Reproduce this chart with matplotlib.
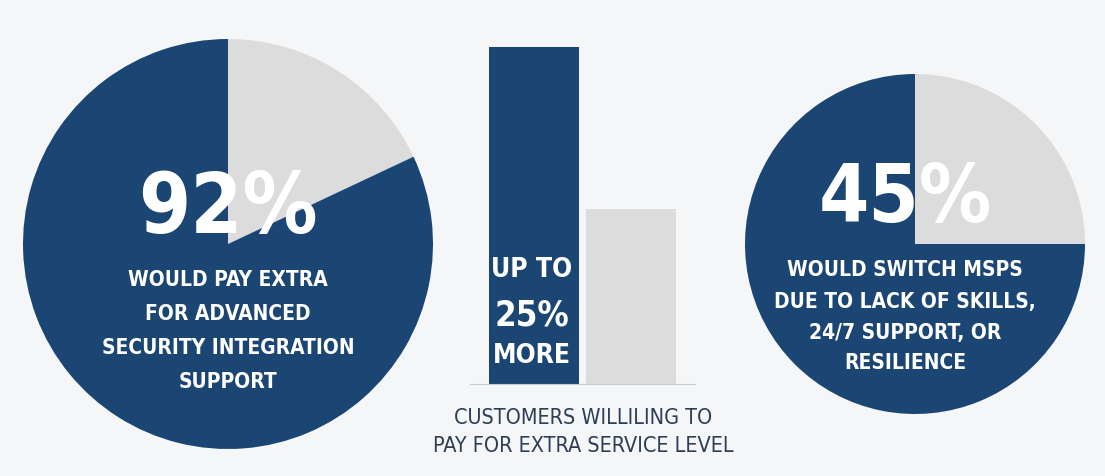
import matplotlib
matplotlib.use("Agg")
import matplotlib.pyplot as plt

BLUE = "#1b4674"; GRAY = "#dcdcdd"; BG = "#f5f6f8"
left_pie = [18, 82]      # gray, blue share as drawn
right_pie = [25, 75]
bar_labels = ["Extra", "Base"]
bar_values = [100, 52]

FONT = ["DejaVu Sans"]
W, H = 1105, 477
fig = plt.figure(figsize=(W/100, H/100), dpi=100, facecolor=BG)

bx = fig.add_axes([470/W, (H-385)/H, 225/W, 337/H])
bx.set_facecolor("none")
bx.bar([0, 1], bar_values, width=0.92, color=[BLUE, GRAY])
bx.set_xlim(-0.65, 1.65); bx.set_ylim(0, 100)
bx.set_xticks([]); bx.set_yticks([])
for s in ["top", "left", "right"]: bx.spines[s].set_visible(False)
bx.spines["bottom"].set_color("#cccccc")

ax = fig.add_axes([0, 0, 1, 1]); ax.set_facecolor("none"); ax.set_zorder(5)
ax.pie(left_pie, colors=[GRAY, BLUE], startangle=90, counterclock=False, center=(228, H-245), radius=205, frame=True)
ax.pie(right_pie, colors=[GRAY, BLUE], startangle=90, counterclock=False, center=(915, H-245), radius=170, frame=True)
ax.set_xlim(0, W); ax.set_ylim(0, H); ax.set_aspect("equal"); ax.axis("off")

def t(x, y, s, size, color="white", weight="bold"):
    ax.text(x, H - y, s, ha="center", va="center", fontsize=size, color=color,
            fontweight=weight, family=FONT, fontstretch="condensed")

t(228, 210, "92%", 60)
for y, s in zip([280, 314, 348, 382], ["WOULD PAY EXTRA", "FOR ADVANCED", "SECURITY INTEGRATION", "SUPPORT"]):
    t(228, y, s, 15)
t(905, 200, "45%", 58)
for y, s in zip([270, 302, 333, 363], ["WOULD SWITCH MSPS", "DUE TO LACK OF SKILLS,", "24/7 SUPPORT, OR", "RESILIENCE"]):
    t(905, y, s, 15)
t(532, 270, "UP TO", 19)
t(532, 316, "25%", 25)
t(532, 356, "MORE", 19)
t(583, 418, "CUSTOMERS WILLILING TO", 15.5, color="#2d3e55", weight="normal")
t(583, 446, "PAY FOR EXTRA SERVICE LEVEL", 15.5, color="#2d3e55", weight="normal")
fig.savefig("out.png", dpi=100, facecolor=BG)
